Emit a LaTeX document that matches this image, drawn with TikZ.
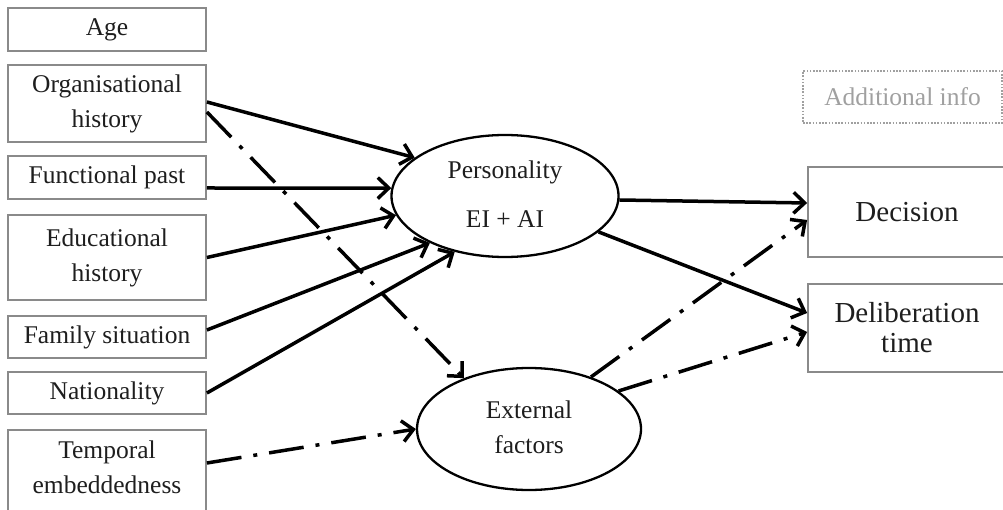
\documentclass[tikz,border=0pt]{standalone}
\usepackage{fontspec}
\setmainfont{Liberation Serif}
\usetikzlibrary{arrows.meta,shapes.geometric}
\definecolor{boxgray}{HTML}{8A8A8A}
\definecolor{ink}{HTML}{1E1E1E}
\definecolor{infogray}{HTML}{A0A0A0}

\begin{document}
\begin{tikzpicture}[x=1pt,y=-1pt,
  every node/.style={font=\fontsize{25.5}{35}\selectfont, text=ink},
  factor/.style={draw=boxgray, line width=1.8pt, minimum width=198pt, inner sep=0pt, align=center},
  outcome/.style={draw=boxgray, line width=1.8pt, minimum width=198pt, inner sep=0pt, align=center,
                  font=\fontsize{29}{30}\selectfont},
  latent/.style={ellipse, draw=black, line width=2.3pt, inner sep=0pt},
  link/.style={line width=3.5pt, -{Straight Barb[length=11pt,width=21pt]}},
  indirect/.style={link, dash pattern=on 35pt off 12pt on 4pt off 12pt},
]
\clip (0,0) rectangle (1003,510);
\fill[white] (0,0) rectangle (1003,510);

% antecedent factors
\node[factor, minimum height=43pt] (age)  at (107,29.5)  {Age};
\node[factor, minimum height=77pt] (org)  at (107,103.5) {Organisational\\history};
\node[factor, minimum height=43pt] (func) at (107,177.5) {Functional past};
\node[factor, minimum height=85pt] (edu)  at (107,257.5) {Educational\\history};
\node[factor, minimum height=42pt] (fam)  at (107,337)   {Family situation};
\node[factor, minimum height=42pt] (nat)  at (107,393)   {Nationality};
\node[factor, minimum height=86pt] (tempbox) at (107,473) {};
\node[align=center, inner sep=0pt] (temp) at (107,467.5) {Temporal\\embeddedness};

% mediators
\node[latent, minimum width=227pt, minimum height=122pt] (pers) at (505,196)
  {\raisebox{-5pt}{\begin{tabular}{@{}c@{}}Personality\\[14pt]EI + AI\end{tabular}}};
\node[latent, minimum width=224pt, minimum height=122pt] (ext) at (529,429)
  {\raisebox{4pt}{\begin{tabular}{@{}c@{}}External\\factors\end{tabular}}};

% outcomes
\node[outcome, minimum height=90pt] (dec)   at (907,212) {Decision};
\node[outcome, minimum height=88pt] (delib) at (907,328) {Deliberation\\time};
\node[draw=infogray, line width=1.4pt, dash pattern=on 1.6pt off 1.6pt,
      minimum width=199pt, minimum height=52pt, inner sep=0pt, text=infogray] (info) at (902.5,97)
  {Additional info};

% paths into the mediators
\draw[link]     ([yshift=1.5pt]org.east)   -- (pers.157);
\draw[indirect] ([yshift=-8.5pt]org.east)  -- (ext.142);
\draw[link]     ([yshift=-10.5pt]func.east) -- (pers.176);
\draw[link]     (edu.east)                 -- (pers.190);
\draw[link]     ([yshift=7pt]fam.east)     -- (pers.212);
\draw[link]     (nat.east)                 -- (pers.228);
\draw[indirect] ([yshift=10pt]tempbox.east) -- (ext.180);

% paths into the outcomes
\draw[link]     (pers.358) -- ([yshift=9pt]dec.west);
\draw[link]     (pers.339) -- ([yshift=15pt]delib.west);
\draw[indirect] (ext.40)   -- ([yshift=-8pt]dec.west);
\draw[indirect] (ext.23)   -- ([yshift=-4pt]delib.west);
\end{tikzpicture}
\end{document}
